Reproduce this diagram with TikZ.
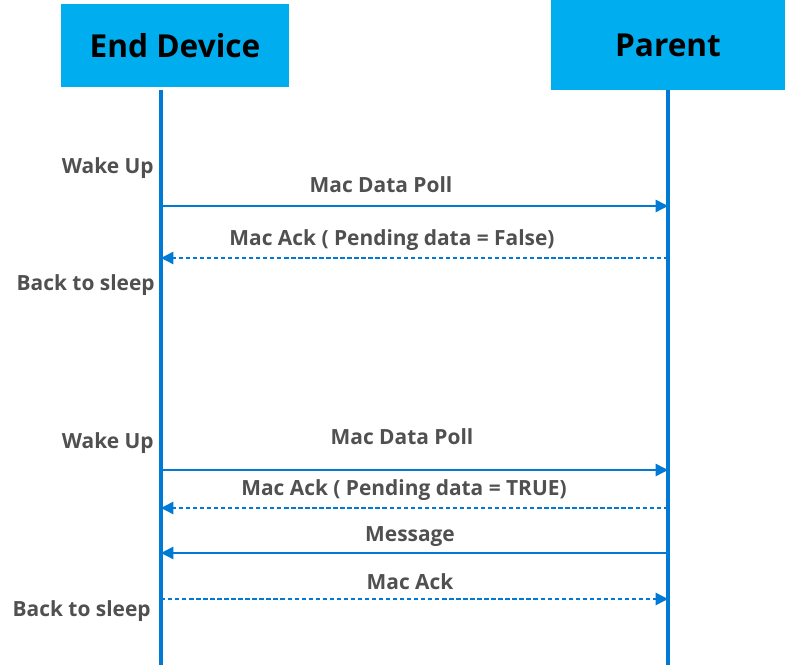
\documentclass[tikz,border=0pt]{standalone}
\usepackage{fontspec}
\setmainfont{Open Sans}
\usepackage{xcolor}
\usetikzlibrary{arrows.meta}
\definecolor{headblue}{RGB}{0,174,239}
\definecolor{lineblue}{RGB}{0,122,212}
\definecolor{textgray}{RGB}{80,80,80}

\begin{document}
\begin{tikzpicture}[x=0.02cm,y=-0.02cm,
	head/.style={font=\fontsize{18}{21}\selectfont\bfseries, text=black},
	life/.style={lineblue, line width=2pt},
	msg/.style={lineblue, line width=0.8pt, -{Triangle[length=7pt,width=7pt]}},
	reply/.style={msg, dash pattern=on 2.5pt off 1.5pt},
	lbl/.style={font=\fontsize{11.9}{14}\selectfont\bfseries, text=textgray},
	state/.style={lbl, anchor=east, inner sep=0pt}]
	\useasboundingbox (0,0) rectangle (785,668);
		% headers
		\fill[headblue] (61,4) rectangle (289,87);
		\fill[headblue] (551,0) rectangle (785,90);
		\node[head] (ed) at (175,46) {End Device};
		\node[head] (pa) at (668,45) {Parent};
		% lifelines
		\coordinate (edtop) at (161,90);
		\coordinate (edbot) at (161,665);
		\coordinate (patop) at (668,90);
		\coordinate (pabot) at (668,665);
		\draw[life] (edtop) -- (edbot);
		\draw[life] (patop) -- (pabot);
		% message points
		\coordinate (e1) at (161,206); \coordinate (p1) at (668,206);
		\coordinate (e2) at (161,258); \coordinate (p2) at (668,258);
		\coordinate (e3) at (161,470); \coordinate (p3) at (668,470);
		\coordinate (e4) at (161,508); \coordinate (p4) at (668,508);
		\coordinate (e5) at (161,553); \coordinate (p5) at (668,553);
		\coordinate (e6) at (161,599); \coordinate (p6) at (668,599);
		\draw[msg] (e1) -- (p1);
		\draw[reply] (p2) -- (e2);
		\draw[msg] (e3) -- (p3);
		\draw[reply] (p4) -- (e4);
		\draw[msg] (p5) -- (e5);
		\draw[reply] (e6) -- (p6);
		% message labels
		\node[lbl] (m1) at (381,185) {Mac Data Poll};
		\node[lbl] (m2) at (392,240) {Mac Ack ( Pending data = False)};
		\node[lbl] (m3) at (402,437) {Mac Data Poll};
		\node[lbl] (m4) at (404,490) {Mac Ack ( Pending data = TRUE)};
		\node[lbl] (m5) at (410,537) {Message};
		\node[lbl] (m6) at (410,582) {Mac Ack};
		% state labels
		\node[state] (w1) at (154,168) {Wake Up};
		\node[state] (s1) at (155,285) {Back to sleep};
		\node[state] (w2) at (154,443) {Wake Up};
		\node[state] (s2) at (151,611) {Back to sleep};
	\end{tikzpicture}
\end{document}
